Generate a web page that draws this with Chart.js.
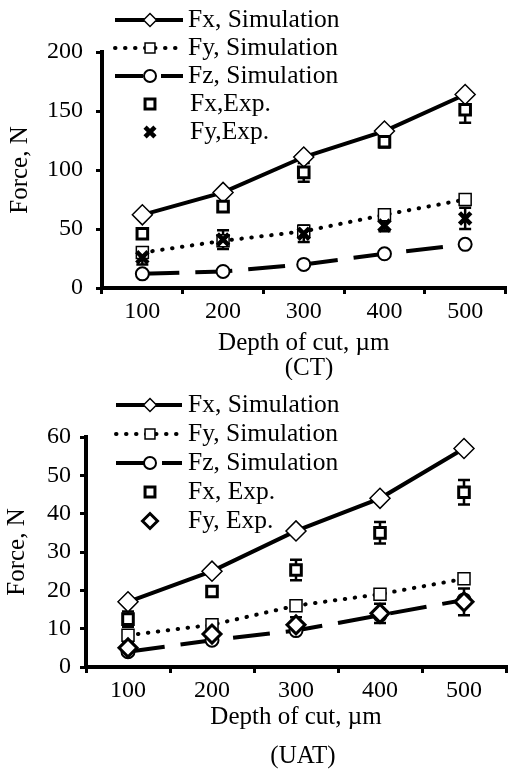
<!DOCTYPE html>
<html>
<head>
<meta charset="utf-8">
<script src="https://cdn.jsdelivr.net/npm/chart.js@4.4.1/dist/chart.umd.min.js"></script>
<style>
body { margin: 0; background: #fff; }
#wrap { position: relative; width: 518px; height: 769px; }
canvas { position: absolute; left: 0; }
#ct { top: 0; }
#uat { top: 380px; }
</style>
</head>
<body>
<div id="wrap">
  <canvas id="ct" width="518" height="380"></canvas>
  <canvas id="uat" width="518" height="389"></canvas>
</div>
<script>
const depths = ['100', '200', '300', '400', '500'];

// (CT) forces, N
const ctFxSim = [62, 81, 111, 133, 164];
const ctFySim = [30, 40, 48, 62, 75];
const ctFzSim = [12, 14, 20, 29, 37];
const ctFxExp = [46, 69, 98, 124, 151];
const ctFxErr = [4, 3, 8, 5, 11];
const ctFyExp = [26, 41, 46, 53, 59];
const ctFyErr = [6, 8, 7, 5, 9];
const ctTicks = [0, 50, 100, 150, 200];

// (UAT) forces, N
const uatFxSim = [17, 25, 35.5, 44, 57];
const uatFySim = [8.3, 11, 16, 19, 23];
const uatFzSim = [4, 7, 9.5, 13.5, 17.5];
const uatFxExp = [12.5, 19.7, 25.3, 35, 45.6];
const uatFxErr = [2, 1, 2.7, 2.8, 3.2];
const uatFyExp = [5, 8.6, 11, 14, 17];
const uatFyErr = [1.5, 1.5, 2, 2.5, 3.5];
const uatTicks = [0, 10, 20, 30, 40, 50, 60];

const serif = '"Liberation Serif", "Times New Roman", serif';

// vertical error bars, drawn under the markers
const errorBars = {
  id: 'errorBars',
  beforeDatasetsDraw(chart) {
    const ctx = chart.ctx, ys = chart.scales.y;
    chart.data.datasets.forEach((ds, i) => {
      if (!ds.errors) return;
      const meta = chart.getDatasetMeta(i);
      ctx.save();
      ctx.strokeStyle = '#000';
      ctx.lineWidth = 2.5;
      meta.data.forEach((pt, j) => {
        const e = ds.errors[j];
        if (!e) return;
        const t = ys.getPixelForValue(ds.data[j] + e);
        const b = ys.getPixelForValue(ds.data[j] - e);
        ctx.beginPath();
        ctx.moveTo(pt.x, t); ctx.lineTo(pt.x, b);
        ctx.moveTo(pt.x - 6, t); ctx.lineTo(pt.x + 6, t);
        ctx.moveTo(pt.x - 6, b); ctx.lineTo(pt.x + 6, b);
        ctx.stroke();
      });
      ctx.restore();
    });
  }
};

// legend stacked at top-left, like the original figure
const sideLegend = {
  id: 'sideLegend',
  afterDraw(chart, args, o) {
    const ctx = chart.ctx;
    chart.data.datasets.forEach((ds, i) => {
      const y = o.top + i * o.gap;
      ctx.save();
      if (ds.showLine !== false) {
        ctx.strokeStyle = '#000';
        ctx.lineWidth = ds.borderWidth;
        ctx.setLineDash(ds.legendDash || ds.borderDash || []);
        ctx.lineCap = ds.borderCapStyle || 'butt';
        ctx.beginPath();
        ctx.moveTo(o.x0, y);
        ctx.lineTo(o.x1, y);
        ctx.stroke();
      }
      ctx.setLineDash([]);
      ctx.fillStyle = ds.pointBackgroundColor;
      ctx.strokeStyle = '#000';
      ctx.lineWidth = ds.pointBorderWidth;
      Chart.helpers.drawPoint(ctx, {
        pointStyle: ds.pointStyle, radius: ds.legendRadius,
        borderWidth: ds.pointBorderWidth, rotation: 0
      }, o.mx, y);
      ctx.fillStyle = '#000';
      ctx.font = o.font;
      ctx.textBaseline = 'middle';
      ctx.textAlign = 'left';
      ctx.fillText(ds.label, ds.showLine === false ? o.tx2 : o.tx, y);
      ctx.restore();
    });
  }
};

const caption = {
  id: 'caption',
  afterDraw(chart, args, o) {
    const ctx = chart.ctx;
    ctx.save();
    ctx.font = '25px ' + serif;
    ctx.fillStyle = '#000';
    ctx.textAlign = 'center';
    ctx.textBaseline = 'middle';
    ctx.fillText(o.text, o.x, o.y);
    ctx.restore();
  }
};

function simLine(label, data, style, dash, cap, radius, bw, legendRadius, legendDash) {
  return {
    label, data,
    borderColor: '#000', borderWidth: 4,
    borderDash: dash, borderCapStyle: cap,
    legendDash,
    pointStyle: style, pointRadius: radius, legendRadius,
    pointBackgroundColor: '#fff', pointBorderColor: '#000', pointBorderWidth: bw,
    tension: 0, order: 2
  };
}

function expPoints(label, data, errors, style, radius, width, legendRadius) {
  return {
    label, data, errors,
    showLine: false,
    pointStyle: style, pointRadius: radius, legendRadius,
    pointBackgroundColor: '#fff', pointBorderColor: '#000', pointBorderWidth: width,
    borderColor: '#000', order: 1
  };
}

function makeChart(id, g) {
  const ticks = g.ticks;
  new Chart(document.getElementById(id), {
    type: 'line',
    data: { labels: depths, datasets: g.datasets },
    plugins: [errorBars, sideLegend, caption],
    options: {
      responsive: false,
      animation: false,
      events: [],
      layout: { padding: { top: g.top, right: g.right, left: 0, bottom: 0 } },
      plugins: {
        legend: { display: false },
        tooltip: { enabled: false },
        sideLegend: g.legend,
        caption: g.caption
      },
      scales: {
        x: {
          type: 'category',
          offset: true,
          afterFit: s => { s.height = g.xHeight; },
          border: { color: '#000', width: 4 },
          grid: { offset: true, drawOnChartArea: false, color: '#000', lineWidth: 3, tickLength: 6 },
          ticks: { color: '#000', font: { family: serif, size: 24 }, padding: 3, maxRotation: 0 },
          title: {
            display: true, text: 'Depth of cut, \u00b5m', color: '#000',
            font: { family: serif, size: 25 }, padding: { top: 0, bottom: g.xTitlePad }
          }
        },
        y: {
          min: ticks[0], max: ticks[ticks.length - 1],
          afterFit: s => { s.width = g.yWidth; },
          border: { color: '#000', width: 4 },
          grid: { drawOnChartArea: false, color: '#000', lineWidth: 3, tickLength: 6 },
          ticks: { color: '#000', font: { family: serif, size: 24 }, padding: g.yPad, stepSize: ticks[1] - ticks[0] },
          title: {
            display: true, text: 'Force, N', color: '#000',
            font: { family: serif, size: 25 }, padding: { top: g.yTitlePad, bottom: 0 }
          }
        }
      }
    }
  });
}

const simDash = [37, 16];
const dotDash = [0.5, 9.5];

makeChart('ct', {
  ticks: ctTicks, top: 52, right: 11, xHeight: 92, yWidth: 102, yPad: 13,
  xTitlePad: 22, yTitlePad: 5,
  caption: { text: '(CT)', x: 309, y: 368 },
  legend: { top: 20, gap: 28, x0: 115, x1: 183, mx: 150, tx: 188, tx2: 190, font: '25.5px ' + serif },
  datasets: [
    simLine('Fx, Simulation', ctFxSim, 'rectRot', [], 'butt', 10, 1.5, 6.5),
    simLine('Fy, Simulation', ctFySim, 'rect', dotDash, 'round', 8.5, 1.5, 7),
    simLine('Fz, Simulation', ctFzSim, 'circle', simDash, 'butt', 6.5, 2, 6, [28, 18]),
    expPoints('Fx,Exp.', ctFxExp, ctFxErr, 'rect', 7.5, 3, 7),
    expPoints('Fy,Exp.', ctFyExp, ctFyErr, 'crossRot', 8, 4.5, 7)
  ]
});

makeChart('uat', {
  ticks: uatTicks, top: 57, right: 1, xHeight: 102, yWidth: 86, yPad: 9,
  xTitlePad: 37, yTitlePad: 2,
  caption: { text: '(UAT)', x: 303, y: 376 },
  legend: { top: 25, gap: 29, x0: 116, x1: 182, mx: 150, tx: 188, tx2: 188, font: '25.5px ' + serif },
  datasets: [
    simLine('Fx, Simulation', uatFxSim, 'rectRot', [], 'butt', 10, 1.5, 6.5),
    simLine('Fy, Simulation', uatFySim, 'rect', dotDash, 'round', 8.5, 1.5, 7),
    simLine('Fz, Simulation', uatFzSim, 'circle', simDash, 'butt', 6.5, 2, 6, [28, 18]),
    expPoints('Fx, Exp.', uatFxExp, uatFxErr, 'rect', 7.5, 3, 7),
    expPoints('Fy, Exp.', uatFyExp, uatFyErr, 'rectRot', 9, 3, 7.5)
  ]
});
</script>
</body>
</html>
